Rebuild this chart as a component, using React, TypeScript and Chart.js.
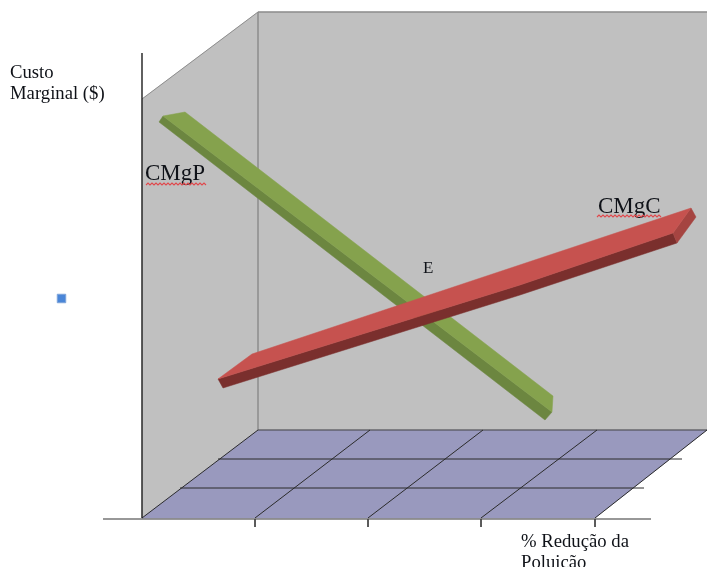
import React, { useEffect, useRef } from "react";
import { Chart, registerables } from "chart.js";

Chart.register(...registerables);

// Series, in axis units (x: % reduction axis, y: marginal cost axis)
const backWallX = [258, 707, 707, 258];
const backWallY = [555, 555, 137, 137];
const sideWallX = [142, 258, 258, 142];
const sideWallY = [468, 555, 137, 49];
const floorX = [142, 258, 707, 595];
const floorY = [49, 137, 137, 49];

const cmgpTopX = [163, 185, 553, 552];
const cmgpTopY = [451, 455, 171, 155];
const cmgpSideX = [159, 163, 552, 545];
const cmgpSideY = [445, 451, 155, 147];

const cmgcTopX = [218, 252, 691, 673, 520];
const cmgcTopY = [188, 213, 359, 334, 282];
const cmgcSideX = [218, 520, 673, 677, 520, 223];
const cmgcSideY = [188, 282, 334, 324, 272, 179];
const cmgcEndX = [691, 696, 677, 673];
const cmgcEndY = [359, 350, 324, 334];

const tickValues = [255, 368, 481, 595];
const depthStartX = [142, 255, 368, 481, 595];
const depthEndX = [258, 370, 483, 597, 707];
const floorRowStartX = [218, 180];
const floorRowEndX = [682, 644];
const floorRowY = [108, 79];

const labelTexts = ["Custo", "Marginal ($)", "CMgP", "CMgC", "E", "% Redução da", "Poluição"];
const labelX = [10, 10, 145, 598, 423, 521, 521];
const labelY = [489, 468, 387, 354, 294, 20, -1];
const labelPx = [18.7, 18.7, 23, 23, 17, 18.7, 18.7];

const squiggleStartX = [146, 597];
const squiggleEndX = [206, 661];
const squiggleY = [383, 351];

const marker = [{ x: 61.5, y: 268.5 }];

const zip = (xs: number[], ys: number[]) => xs.map((x, i) => ({ x, y: ys[i] }));

const poly = (xs: number[], ys: number[], color: string) => ({
  data: [...zip(xs, ys), { x: xs[0], y: ys[0] }],
  showLine: true,
  fill: "shape" as const,
  backgroundColor: color,
  borderColor: color,
  borderWidth: 0.5,
  pointRadius: 0,
  tension: 0,
});

const seg = (x1: number, y1: number, x2: number, y2: number, color: string, width: number) => ({
  data: [
    { x: x1, y: y1 },
    { x: x2, y: y2 },
  ],
  showLine: true,
  fill: false,
  borderColor: color,
  borderWidth: width,
  pointRadius: 0,
});

const annotate = {
  id: "annotate",
  afterDraw(chart: any) {
    const { ctx, scales } = chart;
    const px = (v: number) => scales.x.getPixelForValue(v);
    const py = (v: number) => scales.y.getPixelForValue(v);
    ctx.save();
    ctx.fillStyle = "#0f1218";
    ctx.textAlign = "left";
    ctx.textBaseline = "alphabetic";
    labelTexts.forEach((t, i) => {
      ctx.font = `${labelPx[i]}px "Liberation Serif"`;
      ctx.fillText(t, px(labelX[i]), py(labelY[i]));
    });
    ctx.strokeStyle = "#e0484c";
    ctx.lineWidth = 1.1;
    squiggleStartX.forEach((s, i) => {
      ctx.beginPath();
      let up = false;
      for (let x = px(s); x <= px(squiggleEndX[i]); x += 2) {
        const y = py(squiggleY[i]) + (up ? -1 : 1);
        if (x === px(s)) ctx.moveTo(x, y);
        else ctx.lineTo(x, y);
        up = !up;
      }
      ctx.stroke();
    });
    ctx.restore();
  },
};

export default function App() {
  const ref = useRef<HTMLCanvasElement>(null);
  useEffect(() => {
    const wallEdge = "#8c8c8c";
    const axisDark = "#2b2b2b";
    const datasets: any[] = [
      poly(backWallX, backWallY, "#c0c0c0"),
      poly(sideWallX, sideWallY, "#c0c0c0"),
      poly(floorX, floorY, "#9999be"),
      seg(sideWallX[0], sideWallY[0], sideWallX[1], sideWallY[1], wallEdge, 1),
      seg(backWallX[0], backWallY[0], backWallX[1], backWallY[1], wallEdge, 1.5),
      seg(backWallX[0], backWallY[0], backWallX[3], backWallY[3], wallEdge, 1.5),
      seg(backWallX[3], backWallY[3], backWallX[2], backWallY[2], "#444444", 1.2),
      ...depthStartX.map((s, i) => seg(s, floorY[0], depthEndX[i], floorY[1], axisDark, 1)),
      ...floorRowY.map((y, i) => seg(floorRowStartX[i], y, floorRowEndX[i], y, axisDark, 1)),
      seg(142, 514, 142, 49, "#1f1f1f", 1.4),
      seg(103, 48, 651, 48, "#333333", 1.2),
      ...tickValues.map((t) => seg(t, 48, t, 40, "#444444", 1)),
      poly(cmgpSideX, cmgpSideY, "#6c8640"),
      poly(cmgpTopX, cmgpTopY, "#85a24d"),
      poly(cmgcSideX, cmgcSideY, "#7a2f2d"),
      poly(cmgcEndX, cmgcEndY, "#a54441"),
      poly(cmgcTopX, cmgcTopY, "#c6524f"),
      {
        data: marker,
        showLine: false,
        pointStyle: "rect",
        pointRadius: 6,
        backgroundColor: "#4a86d8",
        borderColor: "#7fa5da",
        borderWidth: 1,
      },
    ].map((d, i) => ({ ...d, order: 1000 - i, clip: false }));

    const chart = new Chart(ref.current!, {
      type: "scatter",
      data: { datasets },
      plugins: [annotate],
      options: {
        responsive: false,
        animation: false,
        layout: { padding: 0, autoPadding: false },
        plugins: { legend: { display: false }, tooltip: { enabled: false } },
        scales: {
          x: { type: "linear", min: 0, max: 707, display: false },
          y: { type: "linear", min: 0, max: 567, display: false },
        },
      },
    } as any);
    return () => chart.destroy();
  }, []);
  return (
    <div style={{ position: "absolute", left: 0, top: 0, width: 707, height: 567, overflow: "hidden", background: "#fff" }}>
      <canvas ref={ref} width={707} height={567} style={{ display: "block", filter: "blur(0.5px)" }} />
    </div>
  );
}
